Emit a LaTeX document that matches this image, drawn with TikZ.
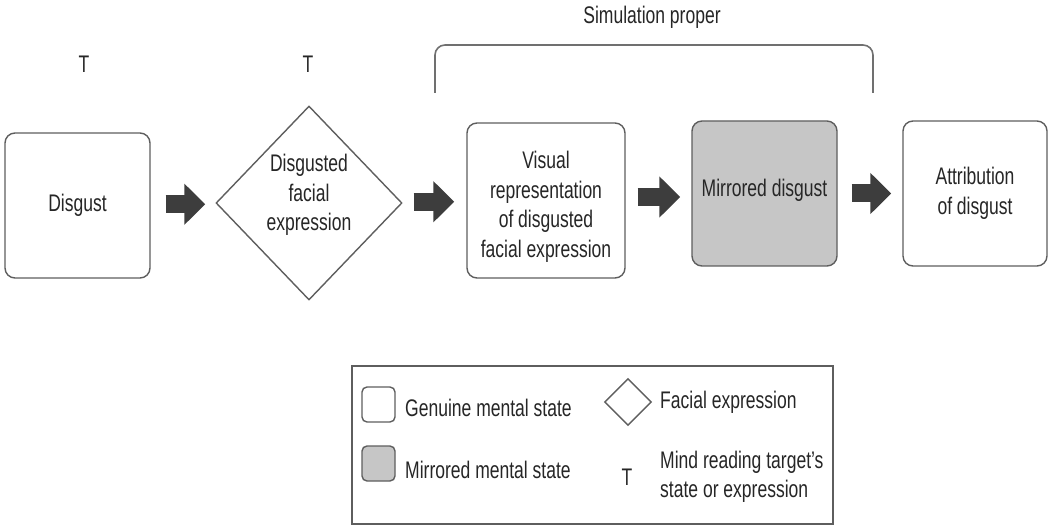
\documentclass[tikz,border=0pt]{standalone}
\usepackage{fontspec}
\setmainfont{Liberation Sans}[FakeStretch=0.73]
\usetikzlibrary{shapes.geometric,arrows.meta}
\definecolor{edge}{HTML}{5E5E5E}
\definecolor{ink}{HTML}{262626}
\definecolor{arrowc}{HTML}{3D3D3D}
\definecolor{mirr}{HTML}{C6C6C6}
\definecolor{brk}{HTML}{707070}
\begin{document}
\begin{tikzpicture}[x=1pt,y=-1pt,
  every node/.style={font=\fontsize{24}{29.5}\selectfont, text=ink},
  state/.style={draw=edge, line width=1.4pt, rounded corners=10pt, fill=white, inner sep=0pt, align=center},
  face/.style={draw=edge, line width=1.4pt, diamond, inner sep=0pt, fill=white},
  blockarr/.style={draw=arrowc, line width=18pt, -{Triangle[length=21pt,width=40pt]}},
  legtext/.style={anchor=west, align=left, inner sep=0pt},
  ttag/.style={inner sep=0pt}
]
\useasboundingbox (0,0) rectangle (1049,529);

% title and bracket
\node[ttag] (title) at (652,17) {Simulation proper};
\coordinate (bl) at (435,93);
\coordinate (br) at (873,93);
\draw[brk, line width=1.6pt, rounded corners=10pt] (bl) -- (bl |- 0,45) -- (br |- 0,45) -- (br);

% target markers
\node[ttag] (t1) at (84,64) {T};
\node[ttag] (t2) at (308,64) {T};

% main states
\node[state, minimum width=145pt, minimum height=145pt] (dis) at (77.5,205.5) {Disgust};
\node[face, minimum width=186pt, minimum height=194pt] (fe) at (309,203) {};
\node[align=center, inner sep=0pt] (fetext) at (309,195) {Disgusted\\facial\\expression};
\node[state, minimum width=158pt, minimum height=155pt] (vis) at (546,200.5) {};
\node[align=center, inner sep=0pt] (vistext) at (546,207) {Visual\\representation\\of disgusted\\facial expression};
\node[state, fill=mirr, minimum width=145pt, minimum height=145pt] (mir) at (764.5,193.5) {};
\node[inner sep=0pt] (mirtext) at (764.5,190) {Mirrored disgust};
\node[state, minimum width=144pt, minimum height=145pt] (att) at (975,193.5) {Attribution\\of disgust};

% block arrows
\path (dis.east) -- coordinate[midway] (m1) (fe.west);
\draw[blockarr, shorten <=15pt, shorten >=10pt] (dis.east |- m1) -- (fe.west |- m1);
\path (fe.east) -- coordinate[midway] (m2) (vis.west);
\draw[blockarr, shorten <=11pt, shorten >=12pt] (fe.east |- m2) -- (vis.west |- m2);
\path (vis.east) -- coordinate[midway] (m3) (mir.west);
\draw[blockarr, shorten <=12pt, shorten >=11pt] (vis.east |- m3) -- (mir.west |- m3);
\path (mir.east) -- coordinate[midway] (m4) (att.west);
\draw[blockarr, shorten <=14pt, shorten >=11pt] (mir.east |- m4) -- (att.west |- m4);

% legend
\node[draw=edge, line width=1.4pt, minimum width=481pt, minimum height=158pt, inner sep=0pt] (leg) at (592.5,445) {};
\node[state, rounded corners=5pt, minimum width=33pt, minimum height=35pt] (lg1) at (378.5,404.5) {};
\node[legtext] (lg1t) at (405,408) {Genuine mental state};
\node[state, rounded corners=5pt, fill=mirr, minimum width=33pt, minimum height=35pt] (lg2) at (378.5,463.5) {};
\node[legtext] (lg2t) at (405,470) {Mirrored mental state};
\node[face, minimum width=47pt, minimum height=47pt] (lg3) at (628,402) {};
\node[legtext] (lg3t) at (660,402) {Facial expression};
\node[ttag] (lg4) at (627,477) {T};
\node[legtext] (lg4t) at (660,477) {Mind reading target's\\state or expression};
\end{tikzpicture}
\end{document}
